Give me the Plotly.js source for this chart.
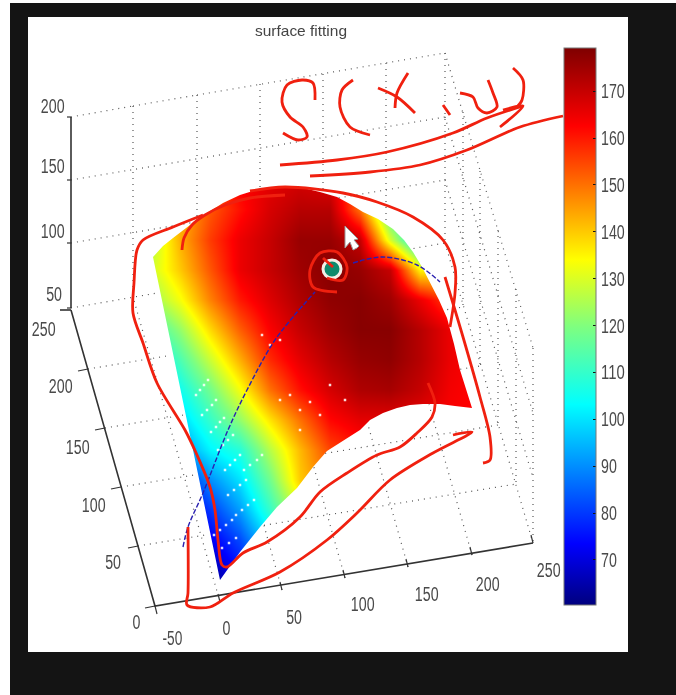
<!DOCTYPE html>
<html><head><meta charset="utf-8">
<script src="https://cdn.plot.ly/plotly-3.0.1.min.js"></script>
<style>html,body{margin:0;padding:0;background:#fff;overflow:hidden}#p{width:676px;height:695px;filter:blur(0.7px)}</style>
</head><body><div id="p"></div>
<script>
// surface colour values, on a grid in image coordinates
var gridX=[150,180,210,240,270,300,330,360,390,420,450,480];
var gridY=[180,210,240,270,300,330,360,390,420,450,480,510,540,570,600];
var gridZ=[
[130,142,155,163,166,168,166,150,115,100,100,100],
[130,142,153,161,168,172,172,150,112,100,100,100],
[125,143,156,165,170,176,176,170,130,100,115,130],
[128,140,153,165,170,175,178,176,170,135,135,140],
[122,133,148,160,167,173,177,178,175,165,155,150],
[110,122,138,152,163,170,175,178,178,172,165,160],
[100,113,128,143,158,166,172,176,177,172,165,162],
[95,105,118,133,150,161,168,173,174,170,164,162],
[90,98,110,122,137,150,162,166,166,165,163,162],
[80,90,102,108,126,142,155,160,160,160,160,160],
[70,75,90,100,118,140,150,155,155,155,155,155],
[62,68,80,92,110,130,145,150,150,150,150,150],
[60,62,72,82,100,120,135,145,145,145,145,145],
[60,60,64,75,90,110,120,130,130,130,130,130],
[60,60,60,64,75,90,100,110,110,110,110,110]];
var cbTicks=[70,80,90,100,110,120,130,140,150,160,170];
var jet=[[0,'#00007f'],[0.11,'#0000ff'],[0.36,'#00ffff'],[0.50,'#7fff7f'],[0.62,'#ffff00'],[0.86,'#ff0000'],[1,'#7f0000']];

// outline of the surface in the picture
var edgeX=[153,163,173,190,207,223,240,256,273,288,303,320,337,350,363,378,393,404,413,422,430,439,447,454,460,466,472,455,440,423,410,397,383,370,360,344,327,313,297,277,260,240,220];
var edgeY=[257,246,238,225,213,203,195,190,188,187,188,192,197,204,212,219,229,240,252,267,283,300,318,344,370,389,408,406,404,404,405,408,413,420,430,440,451,467,488,507,527,552,580];

// box grid lines (end points in the picture)
var gridA=[[71,117,133,106],[133,106,197,95],[197,95,445,53],[71,180,445,117],[71,243,445,180],[71,308,445,243]];
var gridB=[[133,106,133,297],[197,95,197,286],[260,84,260,275],[323,74,323,265],[386,63,386,254],[445,53,445,243]];
var gridC=[[445,53,533,348],[445,117,533,413],[445,180,533,478],[445,243,533,543],
 [463,112,463,307],[480,171,480,366],[498,230,498,425],[516,289,516,484],[533,348,533,543]];
var gridD=[[220,602,133,297],[282,590,197,286],[345,578,260,275],[408,567,323,265],[472,555,386,254],
 [138,546,516,484],[121,487,498,425],[105,428,480,366],[88,369,463,307]];
var axisX=[71,71,null,71,155,533,null,60,71];
var axisY=[117,308,null,310,606,543,null,310,310];
var tickX=[155,157,null,220,218,null,282,280,null,345,343,null,408,406,null,472,470,null,533,531,null,
  128,138,null,111,121,null,95,105,null,78,88,null,145,155,null,67,71,null,67,71,null,67,71,null,67,71];
var tickY=[606,614,null,602,594,null,590,582,null,578,570,null,567,559,null,555,547,null,543,535,null,
  548,546,null,489,487,null,430,428,null,371,369,null,608,606,null,117,117,null,180,180,null,243,243,null,308,308];

// tick labels
var zLabels=['200','150','100','50'], zLabX=[52,52,52,54], zLabY=[106,166,231,294];
var yLabels=['250','200','150','100','50','0'], yLabX=[43,60,77,93,113,136], yLabY=[329,386,447,505,562,622];
var xLabels=['-50','0','50','100','150','200','250'], xLabX=[172,226,294,362,426,487,548], xLabY=[638,628,617,604,594,584,570];

// fitted path on the surface
var curveX=[183,188,203,228,247,273,293,315,null,353,383,417,440];
var curveY=[547,527,493,430,390,343,317,292,null,263,257,265,282];
var dotX=[332], dotY=[269];

// pale specks on the lower part of the surface
var speckX=[196,200,204,208,202,207,212,216,211,216,220,224,218,223,228,233,225,230,235,240,228,234,240,246,236,242,248,254,244,250,257,262,214,220,226,232,222,229,236,280,290,300,310,300,320,330,345,262,270,280];
var speckY=[395,390,385,380,415,410,405,400,432,427,422,418,450,445,440,435,470,465,460,455,495,490,485,480,515,510,505,500,470,465,460,455,535,530,525,520,548,543,538,400,395,410,402,430,415,385,400,335,345,340];

// hand drawn marks
var strokeTop=[[182,250],[184,238],[192,225],[205,215],[225,205],[250,198],[285,195]];
var strokeLeft=[[203,215],[173,227],[143,240],[137,250],[134,283],[133,313],[143,343],[157,383],[185,430],[197,455],[210,487],[215,510],[218,540],[222,565],[227,567],[243,553],[267,542],[300,517],[320,492],[347,473],[377,455],[400,447],[417,433],[432,417],[435,403],[428,383]];
var strokeRight=[[250,191],[285,187],[343,193],[377,202],[413,217],[443,240],[455,267],[455,293],[450,327]];
var strokeFar=[[445,277],[463,337],[480,397],[490,437],[490,460],[483,463]];
var strokeLow=[[453,435],[472,432],[433,453],[390,480],[357,513],[327,540],[280,572],[233,593],[210,607],[187,605],[188,593],[188,527]];
var strokeS=[[315,100],[313,83],[302,80],[287,85],[282,102],[290,117],[303,127],[307,137],[298,140],[283,133]];
var strokeParen=[[353,80],[342,90],[340,107],[350,127],[370,135]];
var strokeX1=[[378,88],[397,97],[415,113]];
var strokeX2=[[408,73],[397,93],[395,108]];
var strokeComma=[[443,105],[450,115]];
var strokeU=[[460,93],[473,97],[478,108],[487,113],[497,107],[493,93],[488,80]];
var strokeClose=[[513,68],[523,80],[522,100],[517,107]];
var arrowOne=[[280,165],[337,160],[387,152],[453,133],[487,118],[523,106]];
var arrowHead=[[503,110],[523,106],[500,127]];
var arrowTwo=[[310,176],[370,172],[420,165],[467,150],[520,127],[563,116]];
var ring=[[337,292],[313,287],[310,270],[320,253],[337,252],[347,267],[343,280],[327,278]];
var ringTick=[[323,258],[333,267]];
var redStrokes=[strokeTop,strokeLeft,strokeRight,strokeFar,strokeLow,strokeS,strokeParen,strokeX1,strokeX2,strokeComma,strokeU,strokeClose,arrowOne,arrowHead,arrowTwo,ring,ringTick];
var cursorX=[345,345,350,353,357,359,354,358,345], cursorY=[226,248,242,250,248,246,240,239,226];

function inside(px,py){var c=false;for(var i=0,j=edgeX.length-1;i<edgeX.length;j=i++){
  if((edgeY[i]>py)!==(edgeY[j]>py)&&px<(edgeX[j]-edgeX[i])*(py-edgeY[i])/(edgeY[j]-edgeY[i])+edgeX[i])c=!c;}return c;}
var gx=[],gy=[];
[gridA,gridB,gridC,gridD].forEach(function(set){set.forEach(function(s){
  var n=Math.max(2,Math.round(Math.hypot(s[2]-s[0],s[3]-s[1])/4));
  for(var i=0;i<=n;i++){var px=s[0]+(s[2]-s[0])*i/n,py=s[1]+(s[3]-s[1])*i/n;
    if(inside(px,py)){gx.push(null);gy.push(null);}else{gx.push(px);gy.push(py);}}
  gx.push(null);gy.push(null);});});

// white surround of the surface: a rectangle with the outline cut out
var mx=[130,500,500,130,130],my=[160,160,622,622,160];
mx.push(edgeX[0]);my.push(edgeY[0]);
for(var k=edgeX.length-1;k>=0;k--){mx.push(edgeX[k]);my.push(edgeY[k]);}
mx.push(edgeX[0],130);my.push(edgeY[0],160);

var traces=[
 {type:'heatmap',x:gridX,y:gridY,z:gridZ,zsmooth:'best',zmin:60.4,zmax:179.2,colorscale:jet,hoverinfo:'skip',
  colorbar:{x:564/676,xanchor:'left',xpad:0,thickness:32,thicknessmode:'pixels',y:1-48/695,yanchor:'top',ypad:0,len:557,lenmode:'pixels',
   tickvals:cbTicks,ticks:'inside',ticklen:3,tickcolor:'#111',outlinecolor:'#777',outlinewidth:1,
   tickfont:{family:'"Liberation Sans",sans-serif',size:20,color:'#4a4a4a'}}},
 {type:'scatter',mode:'lines',x:mx,y:my,fill:'toself',fillcolor:'#fff',line:{width:0},hoverinfo:'skip'},
 {type:'scatter',mode:'markers',x:speckX,y:speckY,marker:{color:'rgba(255,255,255,0.85)',size:2.5,symbol:'square'},hoverinfo:'skip'},
 {type:'scatter',mode:'lines',x:gx,y:gy,line:{color:'#555',width:1.2,dash:'1px,5px'},hoverinfo:'skip',connectgaps:false},
 {type:'scatter',mode:'lines',x:axisX,y:axisY,line:{color:'#333',width:1.6},hoverinfo:'skip'},
 {type:'scatter',mode:'lines',x:tickX,y:tickY,line:{color:'#333',width:1.2},hoverinfo:'skip'},
 {type:'scatter',mode:'lines',x:curveX,y:curveY,line:{color:'#2a20b0',width:1.4,dash:'5px,2px',shape:'spline'},hoverinfo:'skip'},
 {type:'scatter',mode:'markers',x:dotX,y:dotY,marker:{color:'#0f8a6c',size:18,line:{color:'#f4efe6',width:3}},hoverinfo:'skip'}
];
redStrokes.forEach(function(s){
 traces.push({type:'scatter',mode:'lines',x:s.map(function(p){return p[0];}),y:s.map(function(p){return p[1];}),
  line:{color:'#f0200f',width:2.8,shape:'spline',smoothing:0.9},hoverinfo:'skip'});
});
traces.push({type:'scatter',mode:'lines',x:cursorX,y:cursorY,fill:'toself',fillcolor:'#fff',line:{color:'#999',width:1},hoverinfo:'skip'});

var anns=[];
function addLabels(t,x,y){t.forEach(function(s,i){anns.push({text:s,x:x[i],y:y[i],xref:'x',yref:'y',showarrow:false,xanchor:'center',yanchor:'middle',
  font:{family:'"Liberation Sans",sans-serif',size:20,color:'#4a4a4a'}});});}
addLabels(zLabels,zLabX,zLabY);addLabels(yLabels,yLabX,yLabY);addLabels(xLabels,xLabX,xLabY);

var layout={width:676,height:695,margin:{l:0,r:0,t:0,b:0},showlegend:false,
 paper_bgcolor:'#fff',plot_bgcolor:'rgba(0,0,0,0)',
 title:{text:'surface fitting',x:301/676,xanchor:'center',y:1-31/695,yanchor:'middle',font:{family:'"Liberation Sans",sans-serif',size:15,color:'#444'}},
 xaxis:{range:[0,676],visible:false,fixedrange:true},
 yaxis:{range:[695,0],visible:false,fixedrange:true},
 annotations:anns,
 shapes:[
  {type:'rect',layer:'below',xref:'x',yref:'y',x0:10,x1:676,y0:3,y1:695,fillcolor:'#141414',line:{width:0}},
  {type:'rect',layer:'below',xref:'x',yref:'y',x0:28,x1:628,y0:17,y1:652,fillcolor:'#fff',line:{width:0}}
 ]};
Plotly.newPlot('p',traces,layout,{displayModeBar:false,staticPlot:true}).then(function(){
  // the reference's digits are narrower than any installed face
  document.querySelectorAll('.annotation-text, .colorbar text').forEach(function(t){
    var s=t.textContent; if(!s)return;
    var digits=s.replace(/[^0-9]/g,'').length, extra=s.length-digits;
    t.setAttribute('textLength',(digits*7.9+extra*4).toFixed(1)); t.setAttribute('lengthAdjust','spacingAndGlyphs');
  });
  var g=document.querySelector('.gtitle');
  if(g){g.setAttribute('textLength','92');g.setAttribute('lengthAdjust','spacingAndGlyphs');}
});
</script></body></html>
